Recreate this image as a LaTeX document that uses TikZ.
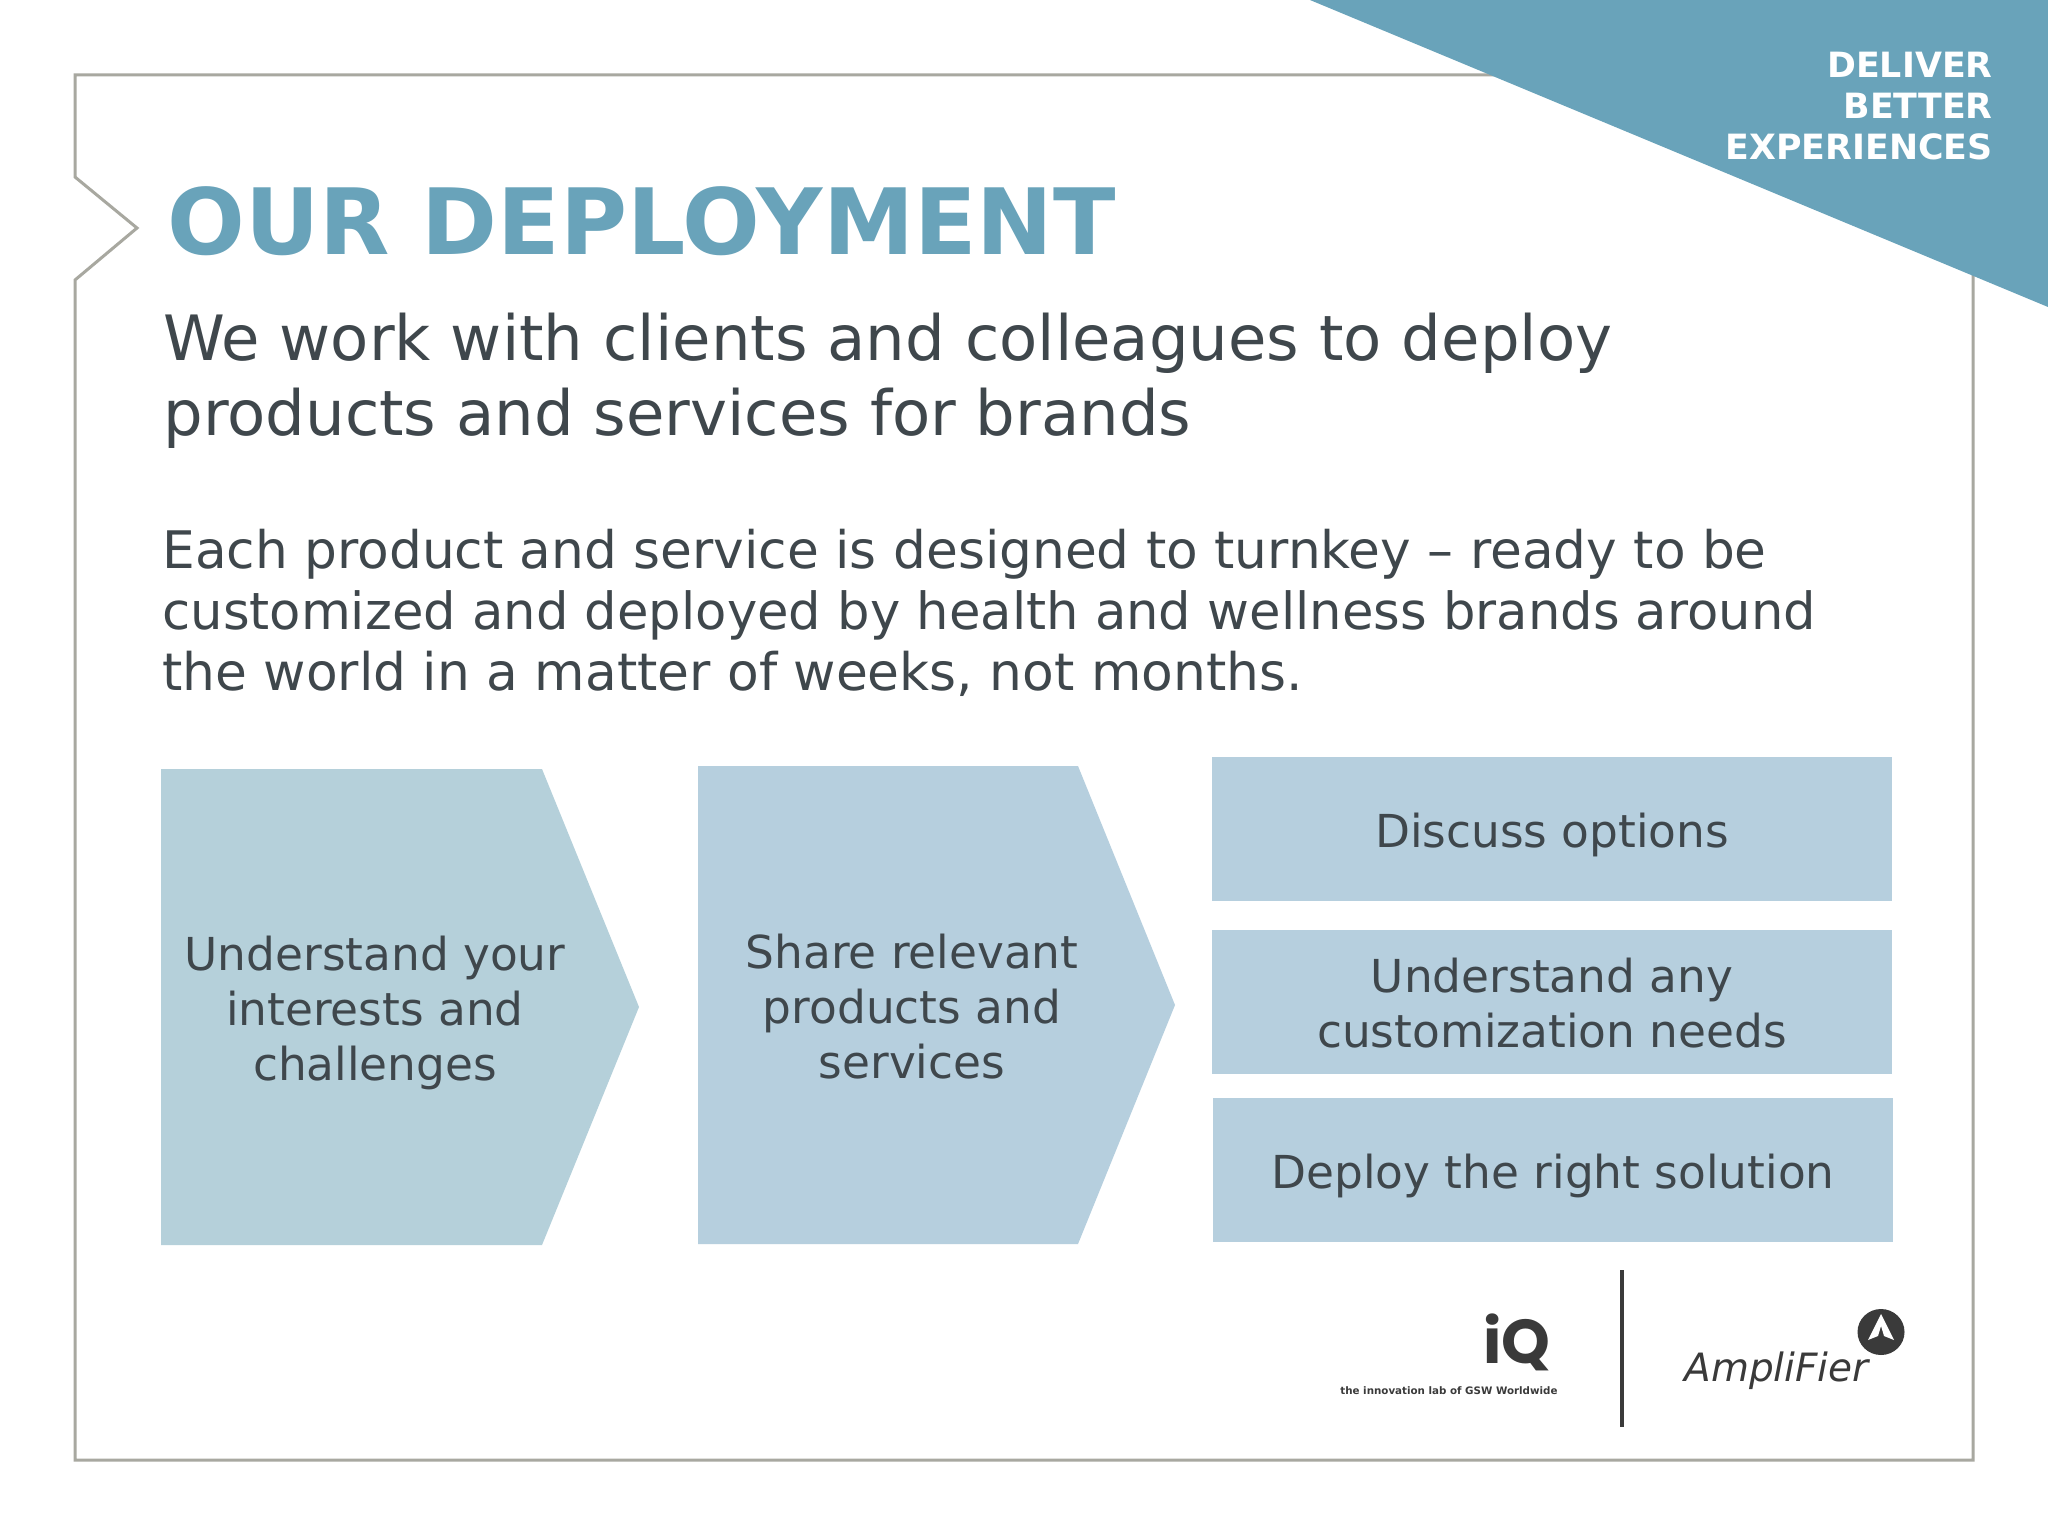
\documentclass[tikz,border=0pt]{standalone}
\usepackage{fontspec}
\setmainfont{DejaVu Sans}
\newfontfamily\logofont{Poppins}
\definecolor{teal}{HTML}{69A3BA}
\definecolor{boxa}{HTML}{B5D0DA}
\definecolor{boxb}{HTML}{B6CFDE}
\definecolor{ink}{HTML}{3F474C}
\definecolor{framec}{HTML}{A8A8A0}
\definecolor{logoc}{HTML}{3A3A3A}
\newcommand{\fs}[2]{\fontsize{#1pt}{#2pt}\selectfont}
\tikzset{
  x=0.5pt,y=-0.5pt,
  stepbox/.style={inner sep=0pt,align=center,text=ink,font=\fs{22.7}{27.5}},
  plain/.style={inner sep=0pt,anchor=base west,align=left,text=ink},
}
\begin{document}
\begin{tikzpicture}
\useasboundingbox (0,0) rectangle (2048,1536);
\fill[white] (0,0) rectangle (2048,1536);
% frame
\draw[framec,line width=1.5pt,line join=miter]
  (1500,75) -- (75,75) -- (75,177) -- (137,228) -- (75,280) -- (75,1460) -- (1973,1460) -- (1973,270);
% corner
\fill[teal] (1310,0) -- (2048,0) -- (2048,307) -- cycle;
\node[inner sep=0pt,anchor=north east,align=right,text=white,font=\fs{17.4}{20.5}\bfseries] (tag) at (1993,52) {DELIVER\\BETTER\\EXPERIENCES};
% heading
\node[plain,text=teal,font=\fs{45.75}{50}\bfseries] (title) at (167,254) {OUR DEPLOYMENT};
\node[plain,font=\fs{31.25}{37.5}] (sub1) at (163,360) {We work with clients and colleagues to deploy};
\node[plain,font=\fs{31.25}{37.5}] (sub2) at (163,435) {products and services for brands};
\node[plain,font=\fs{25.87}{30}] (b1) at (162,568) {Each product and service is designed to turnkey – ready to be};
\node[plain,font=\fs{25.6}{30}] (b2) at (162,629) {customized and deployed by health and wellness brands around};
\node[plain,font=\fs{25.9}{30}] (b3) at (162,690) {the world in a matter of weeks, not months.};
% shapes
\fill[boxa] (161,769) -- (542,769) -- (639,1007) -- (542,1245) -- (161,1245) -- cycle;
\fill[boxb] (698,766) -- (1078,766) -- (1175,1005) -- (1078,1244) -- (698,1244) -- cycle;
\node[stepbox] (c1) at (375,1013) {Understand your\\interests and\\challenges};
\node[stepbox] (c2) at (912,1007) {Share relevant\\products and\\services};
\fill[boxb] (1212,757) rectangle (1892,901);
\fill[boxb] (1212,930) rectangle (1892,1074);
\fill[boxb] (1213,1098) rectangle (1893,1242);
\node[stepbox] (r1) at (1552,835) {Discuss options};
\node[stepbox] (r2) at (1552,1003) {Understand any\\customization needs};
\node[stepbox] (r3) at (1553,1176) {Deploy the right solution};
% logos
\draw[logoc,line width=1.6pt] (1622,1270) -- (1622,1427);
\node[inner sep=0pt,anchor=base east,text depth=0pt,text=logoc,font=\logofont\fs{31}{36}\bfseries] (iq) at (1551,1363) {iQ};
\node[inner sep=0pt,anchor=base west,text=logoc,font=\fs{5.15}{6}\bfseries] (iqs) at (1340,1394) {the innovation lab of GSW Worldwide};
\node[inner sep=0pt,anchor=base west,text=logoc,font=\fs{19.5}{22}\itshape] (amp) at (1684,1381) {AmpliFier};
\fill[logoc] (1881,1332) ellipse (23.5 and 23);
\fill[white] (1881,1314) -- (1894,1340) -- (1884,1336) -- (1881,1326) -- (1878,1336) -- (1868,1340) -- cycle;
\end{tikzpicture}
\end{document}
